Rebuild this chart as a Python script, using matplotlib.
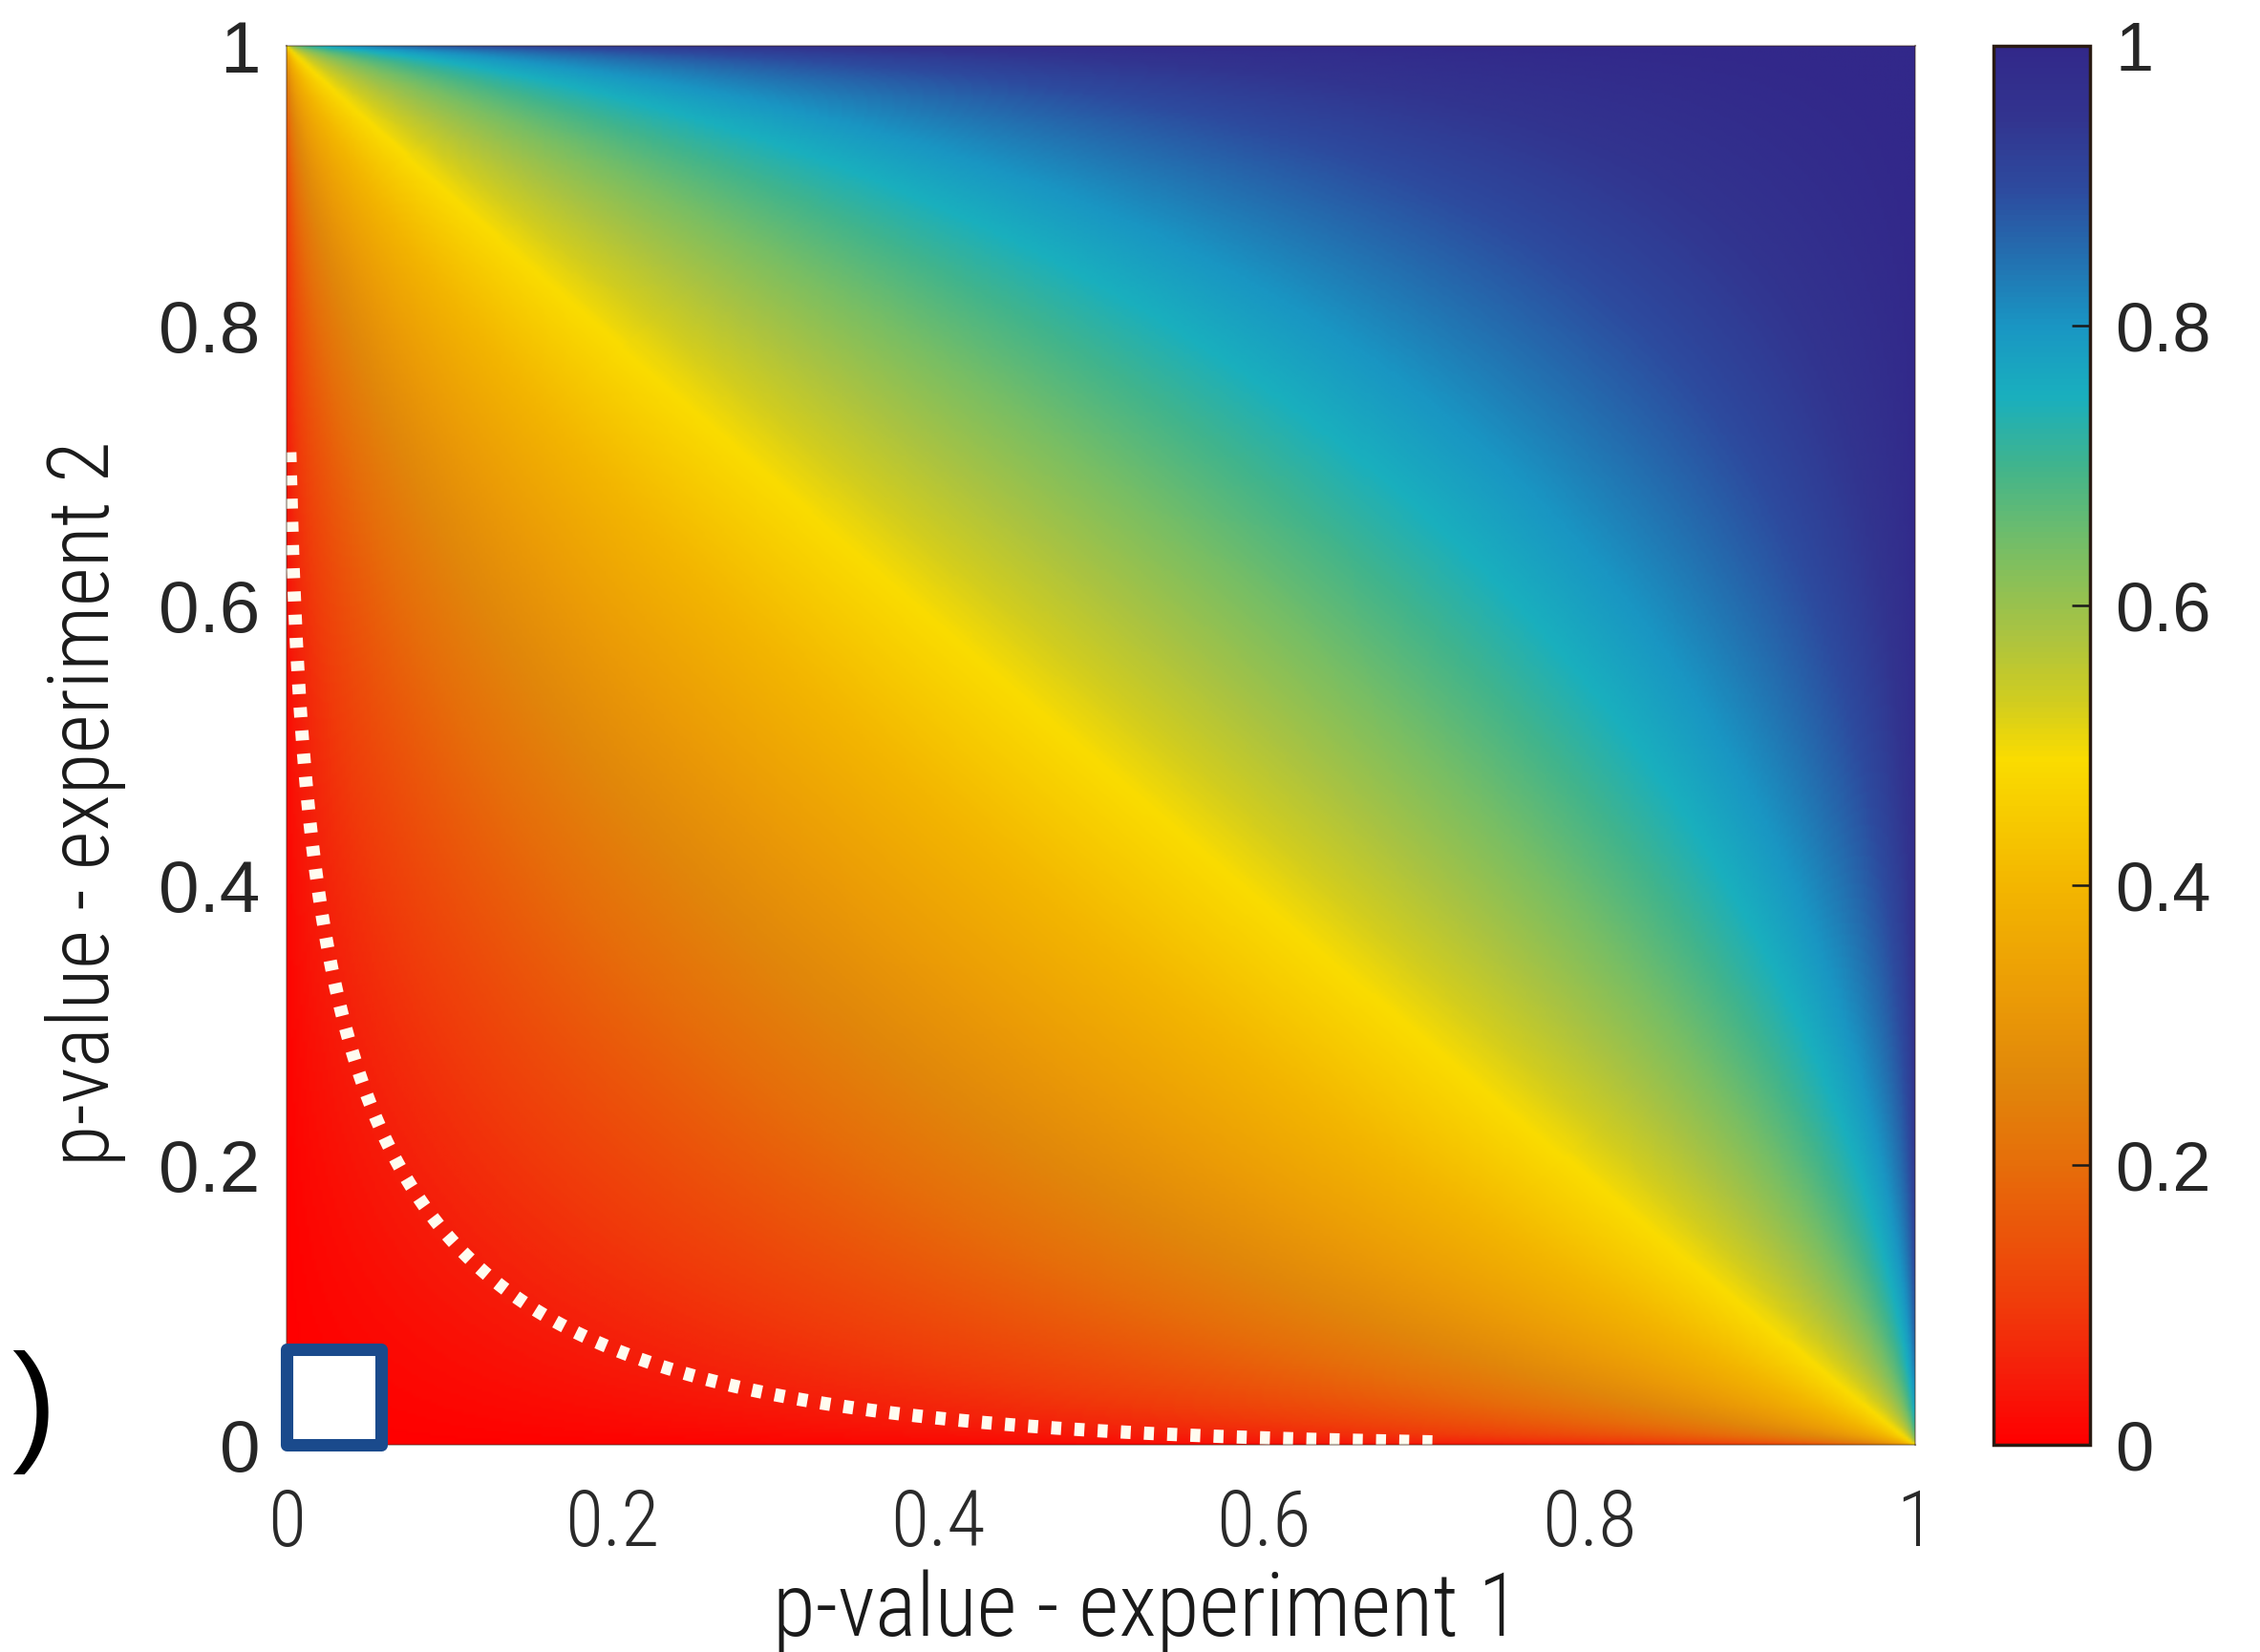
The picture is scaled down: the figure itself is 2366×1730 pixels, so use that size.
import math
from statistics import NormalDist

import numpy as np
import matplotlib
matplotlib.use("Agg")
import matplotlib.pyplot as plt
from matplotlib.colors import LinearSegmentedColormap
from matplotlib.patches import Rectangle

# p-values of the two experiments, sampled on the open unit interval
p_exp1 = np.linspace(0.002, 0.998, 499)
p_exp2 = np.linspace(0.002, 0.998, 499)
alpha = 0.05

axis_ticks = [0, 0.2, 0.4, 0.6, 0.8, 1]
axis_ticklabels = ["0", "0.2", "0.4", "0.6", "0.8", "1"]
cbar_ticks = [0, 0.2, 0.4, 0.6, 0.8, 1]
cbar_ticklabels = ["0", "0.2", "0.4", "0.6", "0.8", "1"]

xlabel = "p-value - experiment 1"
ylabel = "p-value - experiment 2"

# red -> orange -> yellow -> green -> cyan -> navy
cmap_stops = [
    (0.00, "#ff0000"),
    (0.05, "#f51e0a"),
    (0.10, "#f03c0a"),
    (0.15, "#eb550a"),
    (0.20, "#e66e0a"),
    (0.26, "#e1870a"),
    (0.32, "#eb9b06"),
    (0.40, "#f3b600"),
    (0.49, "#fadc00"),
    (0.53, "#d2cd1e"),
    (0.58, "#aac341"),
    (0.64, "#78be64"),
    (0.70, "#41b48c"),
    (0.75, "#19afbe"),
    (0.80, "#1996c3"),
    (0.85, "#2370b0"),
    (0.90, "#2d4a9e"),
    (0.95, "#32348f"),
    (1.00, "#32288a"),
]
cmap = LinearSegmentedColormap.from_list("pcomb", cmap_stops, N=256)

# Stouffer's combined p-value
nd = NormalDist()
z1 = np.array([nd.inv_cdf(1 - p) for p in p_exp1])
z2 = np.array([nd.inv_cdf(1 - p) for p in p_exp2])
z = (z1[None, :] + z2[:, None]) / math.sqrt(2)
erfc = np.frompyfunc(math.erfc, 1, 1)
p_comb = (0.5 * erfc(z / math.sqrt(2))).astype(float)

narrow = ["Roboto Condensed", "Liberation Sans Narrow", "Open Sans Condensed",
          "Roboto"]
arial = ["Liberation Sans", "DejaVu Sans"]

fig = plt.figure(figsize=(23.66, 17.30), dpi=100)
ax = fig.add_axes([0.1268, 0.1254, 0.7206, 0.8468])
cax = fig.add_axes([0.8821, 0.1254, 0.0427, 0.8468])

im = ax.imshow(p_comb, origin="lower", extent=(0, 1, 0, 1), cmap=cmap,
               vmin=0, vmax=1, aspect="auto", interpolation="bilinear")

ax.contour(p_exp1, p_exp2, p_comb, levels=[alpha], colors="#fffcf0",
           linewidths=10, linestyles=[(0, (0.75, 1.0))])

ax.add_patch(Rectangle((0.0, 0.0), 0.058, 0.068, facecolor="white",
                       edgecolor="#1a4a8c", linewidth=9.4, joinstyle="round",
                       clip_on=False, zorder=5))

ax.set_xlim(0, 1)
ax.set_ylim(0, 1)
ax.set_xticks(axis_ticks)
ax.set_xticklabels(axis_ticklabels, fontsize=59, color="#2a2a2a",
                   fontfamily=narrow, fontweight="light")
ax.set_yticks(axis_ticks)
ax.set_yticklabels(axis_ticklabels, fontsize=55, color="#262626",
                   fontfamily=arial)
ax.tick_params(axis="x", length=0, pad=32)
ax.tick_params(axis="y", length=0, pad=20)
for s in ax.spines.values():
    s.set_linewidth(1.5)
    s.set_color((0.2, 0.1, 0.05, 0.35))

cbar = fig.colorbar(im, cax=cax, ticks=cbar_ticks)
cbar.ax.set_yticklabels(cbar_ticklabels, fontsize=52, color="#262626",
                        fontfamily=arial)
cbar.ax.tick_params(direction="in", length=14, width=1.8, pad=19,
                    color="#1a1a1a")
cbar.outline.set_linewidth(2.5)
cbar.outline.set_edgecolor("#2a1a12")

fig.text(0.5076, 0.0098, xlabel, ha="center", va="baseline", fontsize=66,
         color="#1a1a1a", fontfamily=narrow, fontweight="light")
fig.text(0.038, 0.514, ylabel, ha="center", va="center", rotation=90,
         fontsize=64, color="#1a1a1a", fontfamily=narrow, fontweight="light")

# stray closing bracket on the left margin
fig.text(0.0148, 0.145, ")", ha="center", va="center", fontsize=100,
         color="black", fontfamily=arial)

fig.savefig("out.png", dpi=100)
